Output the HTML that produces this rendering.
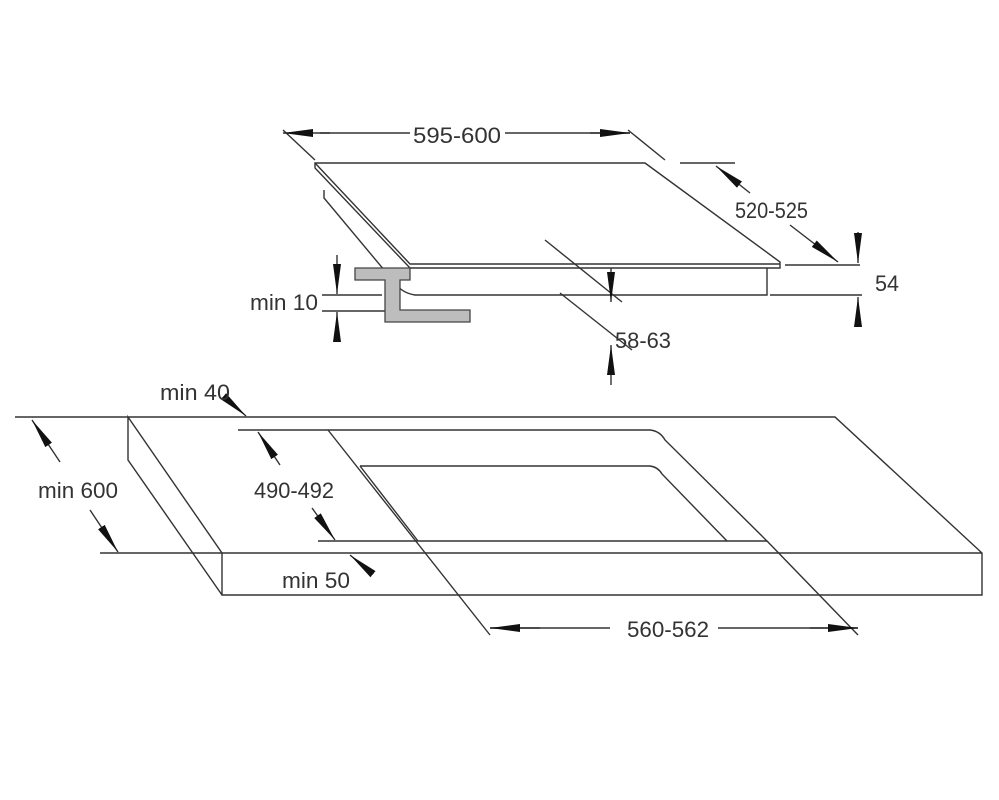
<!DOCTYPE html>
<html><head><meta charset="utf-8"><style>html,body{margin:0;padding:0;background:#fff}svg{display:block}text{font-family:"Liberation Sans",sans-serif;font-size:22px;fill:#333}</style></head>
<body>
<svg width="999" height="800" viewBox="0 0 999 800" xmlns="http://www.w3.org/2000/svg">
<defs>
<marker id="a" viewBox="0 0 30 10" refX="30" refY="5" markerWidth="30" markerHeight="10" markerUnits="userSpaceOnUse" orient="auto-start-reverse"><path d="M0,1 L30,5 L0,9 Z" fill="#111"/></marker>
</defs>
<g fill="none" stroke="#333" stroke-width="1.4">
<path d="M315,163 L645,163 L780,262 L780,268 L410,268 L315,168 Z" fill="#fff"/>
<path d="M315,163 L410,264 L780,264"/>
<path d="M324,190 L324,198 L395,283 Q402,293 415,295 L767,295 L767,268"/>
<path d="M283,130 L315,160 M628,130 L665,160"/>
<path d="M320,133 L410,133 M505,133 L630,133" />
<path d="M330,133 L283,133" marker-end="url(#a)"/>
<path d="M590,133 L630,133" marker-end="url(#a)"/>
<path d="M680,163 L735,163 M785,265 L860,265 M770,295 L862,295"/>
<path d="M750,193 L716,166" marker-end="url(#a)"/>
<path d="M790,225 L838,262" marker-end="url(#a)"/>
<path d="M858,232 L858,263" marker-end="url(#a)"/>
<path d="M858,325 L858,297" marker-end="url(#a)"/>
<path d="M545,240 L622,302 M560,293 L632,350"/>
<path d="M611,268 L611,302" marker-end="url(#a)"/>
<path d="M611,385 L611,345" marker-end="url(#a)"/>
<path d="M322,295 L382,295 M322,311 L385,311"/>
<path d="M337,255 L337,294" marker-end="url(#a)"/>
<path d="M337,340 L337,312" marker-end="url(#a)"/>
</g>
<path d="M355,268 L410,268 L410,280 L400,280 L400,310 L470,310 L470,322 L385,322 L385,280 L355,280 Z" fill="#bdbdbd" stroke="#444" stroke-width="1.3"/>
<g fill="none" stroke="#333" stroke-width="1.4">
<path d="M128,417 L835,417 L982,553 L982,595 L222,595 L222,553 L128,417 L128,460 L222,595 M222,553 L982,553"/>
<path d="M328,430 L650,430 Q660,431 665,440 L767,541 L318,541"/>
<path d="M360,466 L650,466 Q658,467 662,474 L727,541"/>
<path d="M360,466 L418,541"/>
<path d="M328,430 L490,635 M767,541 L858,635"/>
<path d="M15,417 L128,417 M100,553 L222,553 M238,430 L328,430"/>
<path d="M490,628 L610,628 M718,628 L858,628"/>
<path d="M540,628 L490,628" marker-end="url(#a)"/>
<path d="M810,628 L858,628" marker-end="url(#a)"/>
<path d="M60,462 L32,420" marker-end="url(#a)"/>
<path d="M90,510 L118,552" marker-end="url(#a)"/>
<path d="M280,465 L258,432" marker-end="url(#a)"/>
<path d="M312,508 L335,540" marker-end="url(#a)"/>
<path d="M230,402 L246,416" marker-end="url(#a)"/>
<path d="M368,570 L350,555" marker-end="url(#a)"/>
</g>
<text x="413" y="143" textLength="88" lengthAdjust="spacingAndGlyphs">595-600</text>
<text x="735" y="218" textLength="73" lengthAdjust="spacingAndGlyphs">520-525</text>
<text x="875" y="291" textLength="24" lengthAdjust="spacingAndGlyphs">54</text>
<text x="615" y="348" textLength="56" lengthAdjust="spacingAndGlyphs">58-63</text>
<text x="250" y="310" textLength="68" lengthAdjust="spacingAndGlyphs">min 10</text>
<text x="160" y="400" textLength="70" lengthAdjust="spacingAndGlyphs">min 40</text>
<text x="38" y="498" textLength="80" lengthAdjust="spacingAndGlyphs">min 600</text>
<text x="254" y="498" textLength="80" lengthAdjust="spacingAndGlyphs">490-492</text>
<text x="282" y="588" textLength="68" lengthAdjust="spacingAndGlyphs">min 50</text>
<text x="627" y="637" textLength="82" lengthAdjust="spacingAndGlyphs">560-562</text>
</svg>
</body></html>
